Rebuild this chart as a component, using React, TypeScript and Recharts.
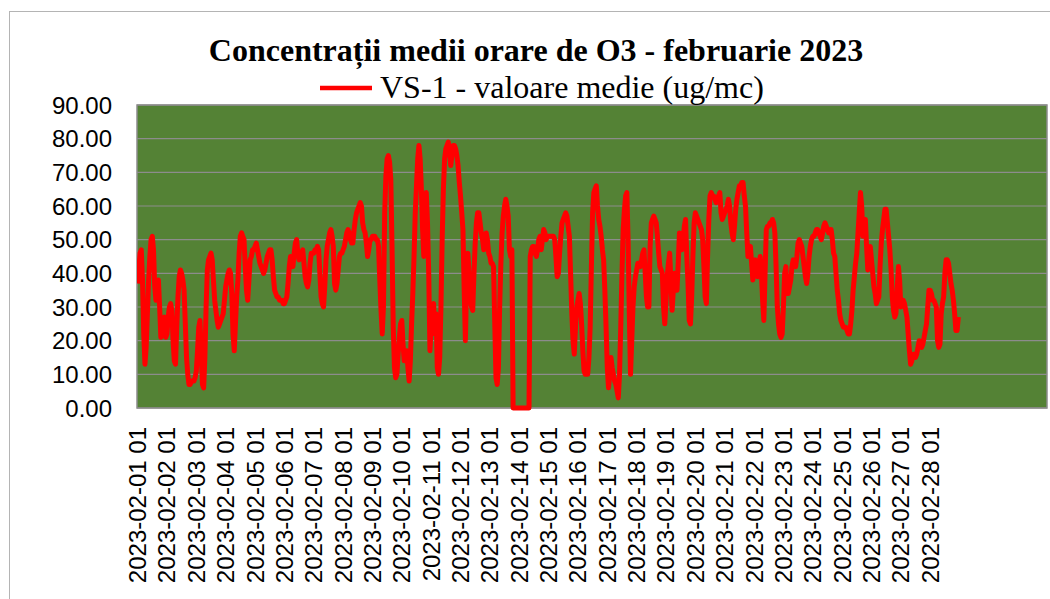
import {
  CartesianGrid,
  Line,
  LineChart,
  ReferenceArea,
  XAxis,
  YAxis,
} from "recharts"

// hourly O3 means, VS-1, one row per day (hour 01 .. hour 24)
const WEEK_1 = [
  37, 41, 46, 47, 38, 22, 13, 18, 28, 38, 45, 50, 51, 47, 36, 32, 35, 38, 30, 21, 22, 25, 27, 21,
  22, 27, 30, 31, 29, 20, 14, 13, 24, 33, 39, 41, 40, 38, 35, 25, 15, 10, 7, 7, 8, 8, 8, 9,
  11, 17, 24, 26, 16, 7, 6, 15, 30, 41, 44, 45, 46, 44, 38, 32, 29, 26, 24, 25, 26, 27, 28, 32,
  36, 38, 40, 41, 40, 34, 22, 17, 25, 33, 38, 46, 51, 52, 51, 50, 42, 35, 32, 38, 44, 45, 47, 47,
  48, 49, 47, 45, 43, 42, 41, 40, 41, 43, 45, 46, 47, 47, 44, 39, 35, 34, 33, 33, 32, 32, 32, 31,
  31, 32, 33, 37, 42, 45, 44, 42, 46, 49, 50, 46, 44, 45, 46, 47, 43, 39, 37, 36, 38, 43, 46, 46,
  46, 47, 47, 48, 47, 40, 33, 31, 30, 36, 44, 48, 50, 52, 53, 51, 48, 37, 35, 37, 41, 45, 46, 46,
]

const WEEK_2 = [
  47, 48, 50, 52, 53, 52, 50, 49, 49, 53, 56, 58, 59, 60, 61, 60, 55, 53, 52, 49, 45, 47, 50, 50,
  51, 51, 51, 50, 50, 48, 38, 29, 22, 30, 58, 69, 74, 75, 73, 68, 48, 24, 12, 9, 10, 16, 21, 25,
  26, 19, 14, 15, 17, 12, 8, 14, 25, 34, 45, 58, 66, 74, 78, 74, 65, 53, 45, 55, 64, 55, 40, 17,
  24, 30, 31, 22, 28, 12, 10, 15, 30, 50, 65, 74, 77, 78, 79, 76, 72, 75, 78, 78, 77, 75, 72, 67,
  63, 58, 53, 35, 20, 38, 46, 40, 33, 30, 29, 40, 49, 55, 58, 58, 55, 52, 50, 47, 49, 52, 50, 46,
  45, 43, 43, 42, 25, 9, 7, 12, 30, 43, 52, 57, 60, 62, 60, 57, 47, 45, 47, 0, 0, 0, 0, 0,
  0, 0, 0, 0, 0, 0, 0, 0, 0, 45, 47, 48, 48, 46, 45, 47, 50, 51, 47, 50, 53, 52, 50, 51,
]

const WEEK_3 = [
  51, 51, 51, 51, 51, 50, 45, 39, 40, 46, 51, 55, 56, 57, 58, 57, 54, 51, 40, 28, 20, 16, 24, 30,
  32, 34, 31, 25, 17, 11, 10, 10, 10, 15, 24, 42, 58, 64, 65, 66, 60, 56, 54, 51, 47, 44, 35, 24,
  12, 6, 10, 15, 12, 10, 8, 7, 5, 3, 10, 24, 40, 53, 59, 63, 64, 50, 28, 10, 20, 30, 36, 39,
  41, 43, 43, 42, 44, 46, 47, 40, 33, 30, 30, 48, 55, 56, 57, 56, 55, 51, 46, 42, 41, 40, 30, 25,
  32, 39, 43, 46, 38, 29, 35, 40, 38, 35, 43, 52, 50, 47, 50, 54, 56, 45, 37, 26, 25, 33, 45, 55,
  58, 57, 56, 55, 54, 53, 50, 42, 33, 31, 45, 56, 63, 64, 63, 63, 62, 61, 62, 63, 64, 58, 56, 57,
  58, 59, 60, 62, 60, 55, 52, 50, 54, 59, 62, 64, 66, 66, 67, 67, 63, 60, 52, 45, 46, 48, 43, 38,
]

const WEEK_4 = [
  41, 44, 42, 39, 42, 45, 40, 32, 26, 40, 53, 54, 54, 55, 55, 56, 55, 52, 42, 30, 25, 22, 21, 22,
  30, 40, 42, 34, 34, 36, 38, 42, 44, 43, 42, 45, 49, 50, 49, 48, 45, 42, 39, 37, 40, 45, 48, 50,
  51, 51, 52, 53, 53, 52, 51, 50, 52, 54, 55, 54, 53, 52, 53, 53, 50, 46, 45, 40, 35, 32, 28, 26,
  25, 24, 24, 24, 23, 22, 22, 25, 29, 35, 39, 43, 46, 52, 58, 64, 60, 51, 54, 56, 48, 41, 44, 48,
  44, 40, 36, 34, 31, 32, 33, 42, 49, 53, 56, 59, 59, 55, 51, 47, 41, 33, 29, 27, 28, 35, 42, 38,
  30, 31, 32, 31, 29, 27, 22, 17, 13, 14, 16, 16, 15, 16, 18, 20, 19, 18, 19, 21, 23, 25, 30, 35,
  35, 34, 32, 32, 31, 30, 20, 18, 19, 28, 31, 33, 40, 44, 44, 43, 40, 37, 35, 32, 28, 23, 23, 27,
]

const TICK_LABELS = [
  "2023-02-01 01", "2023-02-02 01", "2023-02-03 01", "2023-02-04 01", "2023-02-05 01",
  "2023-02-06 01", "2023-02-07 01", "2023-02-08 01", "2023-02-09 01", "2023-02-10 01",
  "2023-02-11 01", "2023-02-12 01", "2023-02-13 01", "2023-02-14 01", "2023-02-15 01",
  "2023-02-16 01", "2023-02-17 01", "2023-02-18 01", "2023-02-19 01", "2023-02-20 01",
  "2023-02-21 01", "2023-02-22 01", "2023-02-23 01", "2023-02-24 01", "2023-02-25 01",
  "2023-02-26 01", "2023-02-27 01", "2023-02-28 01",
]

const Y_TICKS = [0, 10, 20, 30, 40, 50, 60, 70, 80, 90]

// excel category axis reserves a full 31-day month of hourly slots
const SLOTS = 31 * 24

const VALUES = [...WEEK_1, ...WEEK_2, ...WEEK_3, ...WEEK_4]
const data = VALUES.map((v, i) => ({ hour: i, value: v }))
const xTicks = TICK_LABELS.map((_, i) => i * 24)

const SANS = "'Liberation Sans', Arial, sans-serif"
const SERIF = "'Liberation Serif', 'Times New Roman', serif"

const DateTick = ({ x, y, payload }: any) => (
  <text
    x={x}
    y={y}
    transform={`rotate(-90, ${x}, ${y})`}
    textAnchor="end"
    dominantBaseline="central"
    fontSize={24}
    fontFamily={SANS}
    fill="#000"
  >
    {TICK_LABELS[Math.round(payload.value / 24)]}
  </text>
)

export default function App() {
  return (
    <div style={{ position: "fixed", left: 0, top: 0, width: 1050, height: 599, background: "#fff" }}>
      <div
        style={{
          position: "absolute",
          left: 9,
          top: 11,
          width: 1050,
          height: 600,
          borderLeft: "1px solid #b4b4b4",
          borderTop: "1px solid #b4b4b4",
        }}
      />
      <LineChart
        width={1050}
        height={599}
        data={data}
        margin={{ top: 105, right: 3, left: 37, bottom: 0 }}
        style={{ position: "absolute", left: 0, top: 0 }}
      >
        <CartesianGrid vertical={false} stroke="#8c8c8c" strokeWidth={1.2} fill="#548235" fillOpacity={1} />
        <ReferenceArea x1={-0.5} x2={SLOTS - 0.5} y1={0} y2={90} fill="none" stroke="#8c8c8c" strokeWidth={1.5} />
        <XAxis
          dataKey="hour"
          type="number"
          domain={[-0.5, SLOTS - 0.5]}
          ticks={xTicks}
          interval={0}
          tick={<DateTick />}
          tickLine={false}
          axisLine={false}
          tickSize={0}
          tickMargin={19}
          height={191}
          allowDataOverflow
        />
        <YAxis
          domain={[0, 90]}
          ticks={Y_TICKS}
          interval={0}
          width={100}
          tickFormatter={(v) => Number(v).toFixed(2)}
          tick={{ fill: "#000", fontSize: 24, fontFamily: SANS }}
          tickLine={false}
          axisLine={false}
          tickSize={0}
          tickMargin={25}
        />
        <Line
          type="linear"
          dataKey="value"
          stroke="#ff0000"
          strokeWidth={5}
          strokeLinejoin="round"
          dot={false}
          activeDot={false}
          isAnimationActive={false}
        />
      </LineChart>
      <svg width={1050} height={110} style={{ position: "absolute", left: 0, top: 0 }}>
        <text x={536} y={61} textAnchor="middle" fontFamily={SERIF} fontWeight="bold" fontSize={32} fill="#000">
          Concentrații medii orare de O3 - februarie 2023
        </text>
        <line x1={320} y1={88} x2={372} y2={88} stroke="#ff0000" strokeWidth={4.5} />
        <text x={380} y={98} fontFamily={SERIF} fontSize={32} fill="#000">
          VS-1 - valoare medie (ug/mc)
        </text>
      </svg>
    </div>
  )
}
